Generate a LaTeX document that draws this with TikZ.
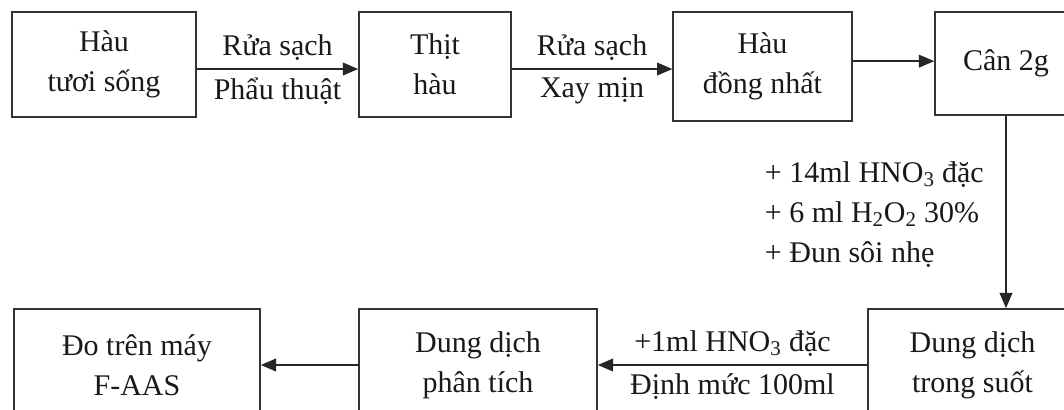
\documentclass[tikz,border=0pt]{standalone}
\usepackage{fontspec}
\setmainfont{Liberation Serif}
\usetikzlibrary{arrows.meta}

\begin{document}
\begin{tikzpicture}[x=0.75pt, y=-0.75pt,
    every node/.style={font=\fontsize{22.5}{30}\selectfont, text=black!90},
    box/.style={draw=black!80, line width=1.2pt, align=center, inner sep=0pt, minimum height=79pt},
    arr/.style={draw=black!85, line width=1.3pt, -{Triangle[length=11.5pt, width=9.5pt]}},
    lbl/.style={inner sep=6pt}]

\useasboundingbox (0,0) rectangle (1064,410);
\fill[white] (0,0) rectangle (1064,410);
\clip (0,0) rectangle (1064,410);

\node[box, minimum width=138pt] (hts) at (104,64.5) {Hàu\\tươi sống};
\node[box, minimum width=114pt] (thit) at (435,64.5) {Thịt\\hàu};
\node[box, minimum width=134pt, minimum height=82pt] (hdn) at (762.5,66.5) {Hàu\\đồng nhất};
\node[box, minimum width=106.5pt, minimum height=77pt] (can) at (1006,63.5) {Cân 2g};

\node[box, minimum width=184.5pt, minimum height=84pt] (do) at (137,365) {Đo trên máy\\F-AAS};
\node[box, minimum width=178.5pt, minimum height=84pt] (pt) at (478,365) {Dung dịch\\phân tích};
\node[box, minimum width=156.75pt, minimum height=84pt] (ts) at (972.5,365) {Dung dịch\\trong suốt};

\coordinate (a1) at ([yshift=-3.4pt]hts.east);
\coordinate (a2) at ([yshift=-3.4pt]thit.east);
\coordinate (a3) at ([yshift=4pt]hdn.east);

\draw[arr] (a1) -- node[lbl, above] {Rửa sạch} node[lbl, below] {Phẩu thuật} (a1 -| thit.west);
\draw[arr] (a2) -- node[lbl, above] {Rửa sạch} node[lbl, below] {Xay mịn} (a2 -| hdn.west);
\draw[arr] (a3) -- (a3 -| can.west);

\draw[arr] (can.south) -- node[lbl, left, align=left, xshift=-10pt, yshift=-2pt]
    {+ 14ml HNO\textsubscript{3} đặc\\+ 6 ml H\textsubscript{2}O\textsubscript{2} 30\%\\+ Đun sôi nhẹ} (can.south |- ts.north);

\draw[arr] (ts.west |- pt.east) -- node[lbl, above] {+1ml HNO\textsubscript{3} đặc} node[lbl, below] {Định mức 100ml} (pt.east);
\draw[arr] (pt.west) -- (do.east);

\end{tikzpicture}
\end{document}
